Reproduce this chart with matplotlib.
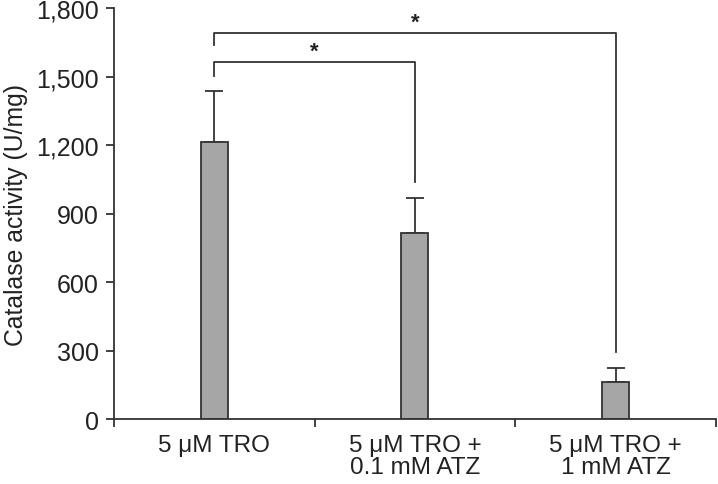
import matplotlib
matplotlib.use("Agg")
import matplotlib.pyplot as plt

plt.rcParams['font.family'] = ['Liberation Sans', 'DejaVu Sans']

categories = ["5 \u03bcM TRO", "5 \u03bcM TRO +\n0.1 mM ATZ", "5 \u03bcM TRO +\n1 mM ATZ"]
values = [1213, 815, 161]
errors = [225, 155, 62]
yticks = [0, 300, 600, 900, 1200, 1500, 1800]
ytick_labels = ["0", "300", "600", "900", "1,200", "1,500", "1,800"]

# significance brackets: (i, j, bar top y, left leg bottom, right leg bottom)
brackets = [(0, 1, 1562, 1503, 1038), (0, 2, 1691, 1638, 293)]

fig = plt.figure(figsize=(7.18, 4.85), dpi=100)
ax = fig.add_axes([0.1588, 0.134, 0.8382, 0.8474])

ec = "#333333"
tc = "#222222"
x = list(range(len(categories)))
ax.bar(x, values, width=0.135, color="#a6a6a6", edgecolor=ec, linewidth=1.3, zorder=2)
ax.errorbar(x, values, yerr=[[0]*len(errors), errors], fmt="none", ecolor=ec,
            elinewidth=1.3, capsize=6.5, capthick=1.3, zorder=1)

for i, j, top, lb, rb in brackets:
    ax.plot([i, i, j, j], [lb, top, top, rb], color=ec, lw=1.3)
    ax.text((i + j) / 2, top + 48, "*", ha="center", va="center", fontsize=16,
            fontweight="bold", color=tc)

ax.set_xlim(-0.5, 2.5)
ax.set_ylim(0, 1800)
ax.set_yticks(yticks)
ax.set_yticklabels(ytick_labels)
ax.set_xticks([-0.5, 0.5, 1.5, 2.5], minor=False)
ax.set_xticklabels([])
ax.set_xticks(x, minor=True)
ax.set_xticklabels(categories, minor=True, fontsize=17.5, color=tc, linespacing=1.0)
ax.tick_params(axis="x", which="minor", length=0, pad=11)
ax.tick_params(axis="x", which="major", direction="out", length=6, width=1.3, color=ec)
ax.tick_params(axis="y", direction="out", length=6, width=1.3, color=ec, labelsize=18,
               labelcolor=tc, pad=5)

for s in ["top", "right"]:
    ax.spines[s].set_visible(False)
for s in ["left", "bottom"]:
    ax.spines[s].set_linewidth(1.3)
    ax.spines[s].set_color(ec)

ax.set_ylabel("Catalase activity (U/mg)", fontsize=17.8, color=tc, labelpad=6)

fig.savefig("out.png", dpi=100)
